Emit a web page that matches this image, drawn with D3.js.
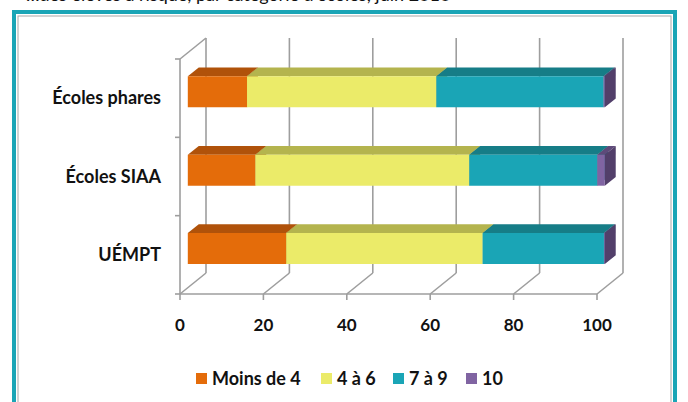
<!DOCTYPE html>
<html><head><meta charset="utf-8">
<script src="https://cdn.jsdelivr.net/npm/d3@7"></script>
<style>body{margin:0;background:#fff}svg{display:block;font-family:Lato,"Open Sans",sans-serif}</style>
</head><body>
<script>
const categories = ["Écoles phares", "Écoles SIAA", "UÉMPT"];
const seriesNames = ["Moins de 4", "4 à 6", "7 à 9", "10"];
const moinsDe4 = [14.2, 16.2, 23.6];
const quatreA6 = [45.4, 51.3, 47.1];
const septA9   = [40.1, 30.7, 29.1];
const dix      = [0.3, 1.8, 0.2];
const xTicks = [0, 20, 40, 60, 80, 100];
const titleText = "…des élèves à risque, par catégorie d'écoles, juin 2010";

const seriesValues = [moinsDe4, quatreA6, septA9, dix];
const frontColors = ["#E46C0A", "#EBEB69", "#1AA5B6", "#8064A2"];
const topColors   = ["#B0520A", "#B4B44E", "#167D87", "#5E4A7A"];
const sideColors  = ["#9A4808", "#A0A040", "#136F78", "#523F6A"];

const W = 688, H = 402;
const svg = d3.select("body").append("svg").attr("width", W).attr("height", H);

// partially visible header text (cut off at top, as in the source)
svg.append("text").attr("x", 26).attr("y", 1).attr("font-size", 18)
  .attr("fill", "#111").text(titleText);

// frame
svg.append("rect").attr("x", 14).attr("y", 12).attr("width", 661).attr("height", 420)
  .attr("fill", "none").attr("stroke", "#1AA5B6").attr("stroke-width", 4);
svg.append("rect").attr("x", 18).attr("y", 16).attr("width", 653).attr("height", 420)
  .attr("fill", "none").attr("stroke", "#a8a8a8").attr("stroke-width", 1);

const x = d3.scaleLinear().domain([0, 100]).range([180, 597]);
const y = d3.scaleBand().domain(categories).range([59, 294]);
const DX = 26, DY = -21;
const P = (v, yy, z) => [x(v) + z * DX, yy + z * DY];
const grid = "#9e9e9e";
const g = svg.append("g").attr("fill", "none").attr("stroke", grid).attr("stroke-width", 1.6);
const line = d3.line();

// back wall gridlines + floor
xTicks.forEach(t => {
  g.append("path").attr("d", line([P(t, 59, 1), P(t, 294, 1)]));
  g.append("path").attr("d", line([P(t, 294, 0), P(t, 294, 1)]));
  g.append("path").attr("d", line([P(t, 294, 0), [x(t), 300]]));
});
g.append("path").attr("d", line([P(0, 59, 0), P(0, 59, 1)]));
g.append("path").attr("d", line([P(0, 59, 0), P(0, 294, 0)]));
g.append("path").attr("d", line([P(0, 294, 0), P(100, 294, 0)]));
[59, ...categories.map(c => y(c) + y.bandwidth())].forEach(yy => {
  g.append("path").attr("d", line([[x(0) - 5, yy], [x(0), yy]]));
});

// bars
const zF = 0.3, zB = 0.72, barH = 31;
categories.forEach((c, i) => {
  const cy = y(c) + y.bandwidth() / 2;
  const yt = cy - barH / 2, yb = cy + barH / 2;
  let acc = 0;
  seriesValues.forEach((vals, s) => {
    const v0 = acc, v1 = acc + vals[i];
    acc = v1;
    const bg = svg.append("g");
    bg.append("path").attr("fill", topColors[s])
      .attr("d", line([P(v0, yt, zF), P(v1, yt, zF), P(v1, yt, zB), P(v0, yt, zB)]) + "Z");
    bg.append("path").attr("fill", sideColors[s])
      .attr("d", line([P(v1, yt, zF), P(v1, yt, zB), P(v1, yb, zB), P(v1, yb, zF)]) + "Z");
    bg.append("path").attr("fill", frontColors[s])
      .attr("d", line([P(v0, yt, zF), P(v1, yt, zF), P(v1, yb, zF), P(v0, yb, zF)]) + "Z");
  });
});

// category labels
categories.forEach(c => {
  svg.append("text").attr("x", 161).attr("y", y(c) + y.bandwidth() / 2 + 6)
    .attr("text-anchor", "end").attr("font-size", 18).attr("font-weight", "bold")
    .attr("fill", "#111").text(c);
});
// x tick labels
xTicks.forEach(t => {
  svg.append("text").attr("x", x(t)).attr("y", 331)
    .attr("text-anchor", "middle").attr("font-size", 17).attr("font-weight", "bold")
    .attr("fill", "#111").text(t);
});

// legend
const legendX = [196, 321, 393, 466];
seriesNames.forEach((n, s) => {
  svg.append("rect").attr("x", legendX[s]).attr("y", 373).attr("width", 11).attr("height", 11)
    .attr("fill", frontColors[s]);
  svg.append("text").attr("x", legendX[s] + 16).attr("y", 385).attr("font-size", 18)
    .attr("font-weight", "bold").attr("fill", "#111").text(n);
});
</script>
</body></html>
